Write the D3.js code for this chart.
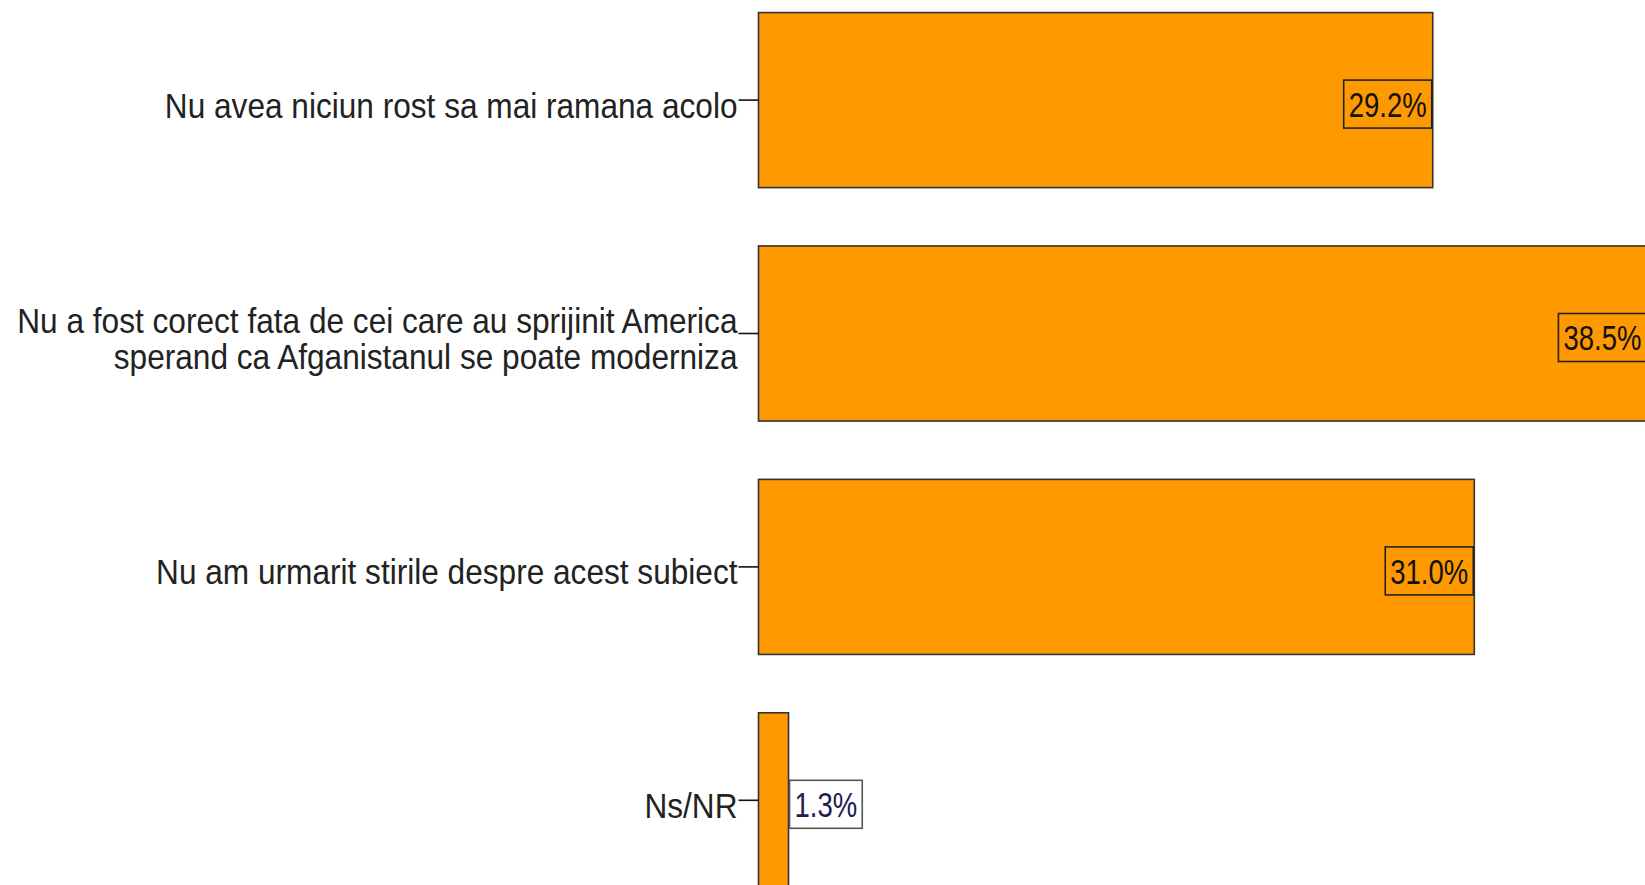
<!DOCTYPE html>
<html>
<head>
<meta charset="utf-8">
<script src="https://cdn.jsdelivr.net/npm/d3@7"></script>
<style>
  html, body { margin: 0; padding: 0; background: #fff; }
  svg { display: block; }
</style>
</head>
<body>
<div id="chart"></div>
<script>
// data
const categories = [
  "Nu avea niciun rost sa mai ramana acolo",
  "Nu a fost corect fata de cei care au sprijinit America sperand ca Afganistanul se poate moderniza",
  "Nu am urmarit stirile despre acest subiect",
  "Ns/NR"
];
const labelLines = [
  ["Nu avea niciun rost sa mai ramana acolo"],
  ["Nu a fost corect fata de cei care au sprijinit America", "sperand ca Afganistanul se poate moderniza"],
  ["Nu am urmarit stirile despre acest subiect"],
  ["Ns/NR"]
];
const percents = [29.2, 38.5, 31.0, 1.3];

const W = 1645, H = 885;
const X0 = 758.5;
const BAR_FILL = "#FF9900";
const FONT = "'Liberation Sans', Arial, sans-serif";

const svg = d3.select("#chart").append("svg")
  .attr("width", W)
  .attr("height", H);

const x = d3.scaleLinear().domain([0, 40]).range([X0, X0 + 923.6]);
const y = d3.scaleBand()
  .domain(categories)
  .range([-16.6, 917])
  .paddingInner(0.25)
  .paddingOuter(0.125);

const rows = categories.map((c, i) => ({ cat: c, lines: labelLines[i], pct: percents[i] }));

// ── Bars ──
svg.append("g").selectAll("rect")
  .data(rows)
  .join("rect")
  .attr("x", x(0))
  .attr("y", d => y(d.cat))
  .attr("width", d => x(d.pct) - x(0))
  .attr("height", y.bandwidth())
  .attr("fill", BAR_FILL)
  .attr("stroke", "#333")
  .attr("stroke-width", 1.6);

// ── Category ticks ──
const axis = d3.axisLeft(y).tickSize(20).tickSizeOuter(0).tickFormat("");
const axG = svg.append("g")
  .attr("transform", `translate(${X0},0)`)
  .call(axis);
axG.select(".domain").remove();
axG.selectAll(".tick line").attr("stroke", "#111").attr("stroke-width", 1.6);

// ── Category labels ──
const LBL_FS = 33, LBL_SX = 0.958, LBL_SY = 1.05, LINE_H = 35.5;
const lblG = svg.append("g").selectAll("g")
  .data(rows)
  .join("g")
  .attr("transform", d => `translate(737.5,${y(d.cat) + y.bandwidth() / 2 + 5}) scale(${LBL_SX},${LBL_SY})`);

lblG.selectAll("text")
  .data(d => d.lines.map((t, i) => ({ t, i, n: d.lines.length })))
  .join("text")
  .attr("x", 0)
  .attr("y", d => (d.i - (d.n - 1) / 2) * LINE_H / LBL_SY)
  .attr("dy", "0.36em")
  .attr("text-anchor", "end")
  .style("font-family", FONT)
  .style("font-size", LBL_FS + "px")
  .attr("fill", "#222")
  .text(d => d.t);

// ── Value labels ──
const VAL_FS = 32, VAL_SX = 0.86, VAL_SY = 1.1, PAD = 5, BOX_H = 48;
rows.forEach(d => {
  const cy = y(d.cat) + y.bandwidth() / 2 + 4;
  const g = svg.append("g");
  const txt = g.append("text")
    .attr("dy", "0.36em")
    .style("font-family", FONT)
    .style("font-size", VAL_FS + "px")
    .text(d.pct.toFixed(1) + "%");
  const tw = txt.node().getComputedTextLength() * VAL_SX;
  const bw = tw + PAD * 2;
  const barEnd = x(d.pct);
  const inside = (barEnd - x(0)) > bw + 4;
  const bx = inside ? barEnd - 1 - bw : barEnd + 1;

  g.insert("rect", "text")
    .attr("x", bx)
    .attr("y", cy - BOX_H / 2)
    .attr("width", bw)
    .attr("height", BOX_H)
    .attr("fill", inside ? "none" : "#fff")
    .attr("stroke", inside ? "#222" : "#555")
    .attr("stroke-width", 1.6);

  txt.attr("transform", `translate(${bx + PAD},${cy}) scale(${VAL_SX},${VAL_SY})`)
    .attr("fill", inside ? "#111" : "#1c1c50");
});
</script>
</body>
</html>
